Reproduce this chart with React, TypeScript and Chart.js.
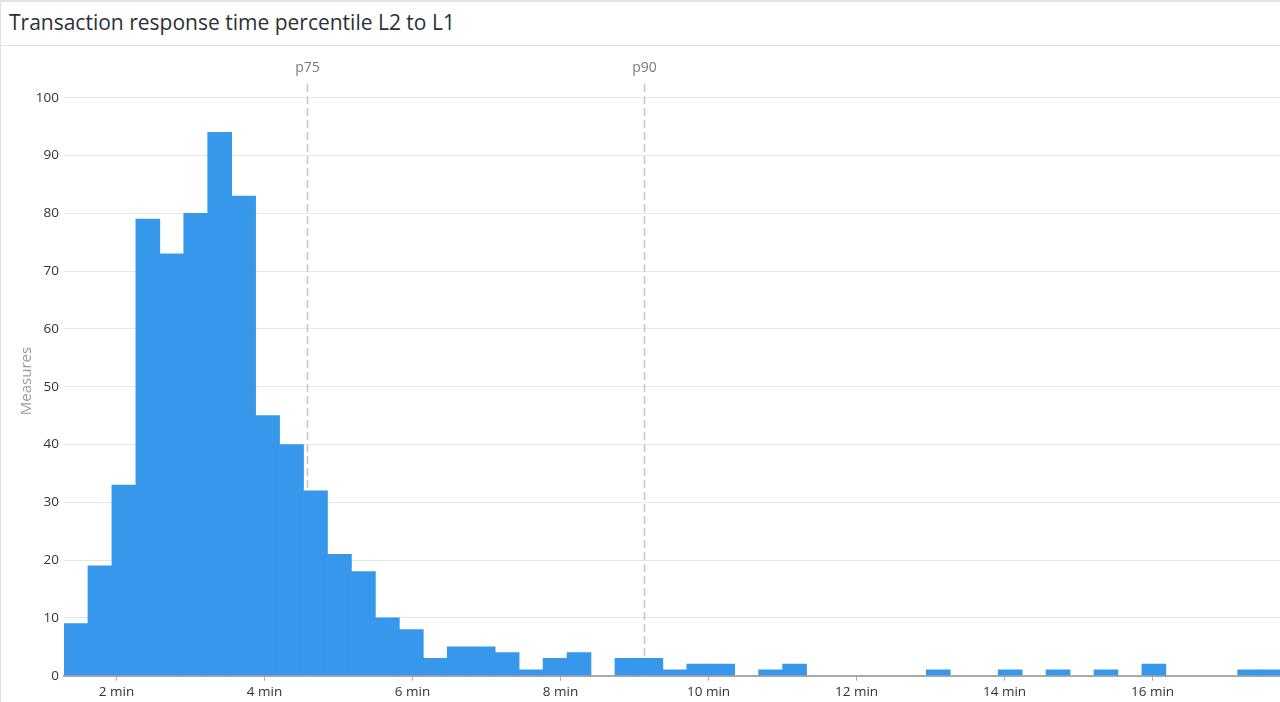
import React, { useEffect, useRef } from 'react';
import { Chart, registerables } from 'chart.js';

Chart.register(...registerables);

// ---- Data ----
const titleText = 'Transaction response time percentile L2 to L1';
const yAxisTitle = 'Measures';
const binStartMin = 1.29; // first bin edge, minutes
const binWidthMin = 0.3237; // bin width, minutes
const counts = [
  9, 19, 33, 79, 73, 80, 94, 83, 45, 40, 32, 21, 18, 10, 8, 3, 5, 5, 4, 1, 3, 4, 0, 3, 3, 1, 2, 2, 0, 1, 2,
  0, 0, 0, 0, 0, 1, 0, 0, 1, 0, 1, 0, 1, 0, 2, 0, 0, 0, 1, 1,
];
const xTickValues = [2, 4, 6, 8, 10, 12, 14, 16, 18];
const yTickValues = [0, 10, 20, 30, 40, 50, 60, 70, 80, 90, 100];
const percentileLabels = ['p75', 'p90'];
const percentileValues = [4.578, 9.132];
const xMin = 1.29;
const xMax = 19.074;

const FONT = "'Open Sans', 'Noto Sans', sans-serif";
const BAR_COLOR = '#3697eb';

const percentilePlugin = {
  id: 'percentiles',
  beforeDatasetsDraw(chart: any) {
    const { ctx, chartArea, scales } = chart;
    const x = scales.x;
    ctx.save();
    percentileValues.forEach((v, i) => {
      const px = Math.round(x.getPixelForValue(v)) + 0.5;
      ctx.beginPath();
      ctx.setLineDash([8, 4]);
      ctx.strokeStyle = '#c4c4c4';
      ctx.lineWidth = 1.5;
      ctx.moveTo(px, chartArea.top - 13.5);
      ctx.lineTo(px, chartArea.bottom);
      ctx.stroke();
      ctx.setLineDash([]);
      ctx.fillStyle = '#7a7a7a';
      ctx.font = `14px ${FONT}`;
      ctx.textAlign = 'center';
      ctx.textBaseline = 'middle';
      ctx.fillText(percentileLabels[i], px, chartArea.top - 29.5);
    });
    // y axis title
    ctx.save();
    ctx.translate(27, 381 - 46);
    ctx.rotate(-Math.PI / 2);
    ctx.fillStyle = '#9a9a9a';
    ctx.font = `15px ${FONT}`;
    ctx.textAlign = 'center';
    ctx.textBaseline = 'middle';
    ctx.fillText(yAxisTitle, 0, 0);
    ctx.restore();
    ctx.restore();
  },
};

function HistogramChart() {
  const ref = useRef<HTMLCanvasElement | null>(null);
  useEffect(() => {
    if (!ref.current) return;
    const data = counts.map((c, i) => ({
      x: binStartMin + (i + 0.5) * binWidthMin,
      y: c === 0 ? null : c,
    }));
    const chart = new Chart(ref.current, {
      type: 'bar',
      data: {
        datasets: [
          {
            data: data as any,
            backgroundColor: BAR_COLOR,
            borderWidth: 0,
            barPercentage: 1,
            categoryPercentage: 1,
          },
        ],
      },
      options: {
        animation: false,
        responsive: false,
        maintainAspectRatio: false,
        layout: { padding: { top: 51.7, right: 20, bottom: 0, left: 0 } },
        plugins: { legend: { display: false }, tooltip: { enabled: false }, title: { display: false } },
        scales: {
          x: {
            type: 'linear',
            min: xMin,
            max: xMax,
            offset: false,
            afterBuildTicks: (scale: any) => {
              scale.ticks = xTickValues.map((v) => ({ value: v }));
            },
            afterFit: (scale: any) => {
              scale.height = 26.3;
            },
            grid: {
              offset: false,
              drawOnChartArea: false,
              drawTicks: true,
              tickLength: 5,
              color: '#a9a9a9',
              lineWidth: 1,
            },
            border: { display: true, color: '#a9a9a9', width: 2 },
            ticks: {
              padding: 3,
              color: '#333333',
              font: { family: FONT, size: 13.5 },
              maxRotation: 0,
              autoSkip: false,
              callback: (v: any) => `${v} min`,
            },
          },
          y: {
            type: 'linear',
            min: 0,
            max: 100,
            afterBuildTicks: (scale: any) => {
              scale.ticks = yTickValues.map((v) => ({ value: v }));
            },
            afterFit: (scale: any) => {
              scale.width = 64;
            },
            grid: { color: '#e6e6e6', lineWidth: 1, drawTicks: false },
            border: { display: false },
            ticks: {
              padding: 5,
              color: '#333333',
              font: { family: FONT, size: 13.5 },
            },
            title: { display: false },
          },
        },
      },
      plugins: [percentilePlugin],
    });
    return () => chart.destroy();
  }, []);
  return <canvas ref={ref} width={1400} height={656} style={{ display: 'block', width: 1400, height: 656 }} />;
}

export default function App() {
  return (
    <div
      style={{
        position: 'fixed',
        left: 0,
        top: 0,
        width: 1280,
        height: 702,
        overflow: 'hidden',
        background: '#ffffff',
        boxSizing: 'border-box',
        borderLeft: '1px solid #e2e2e2',
        fontFamily: FONT,
      }}
    >
      <div
        style={{
          position: 'absolute',
          left: 0,
          top: 0,
          width: 1280,
          height: 46,
          boxSizing: 'border-box',
          borderTop: '2px solid #e4e4e4',
          borderBottom: '1px solid #e2e2e2',
        }}
      >
        <div
          style={{
            position: 'absolute',
            left: 8,
            top: 0,
            lineHeight: '40px',
            fontSize: 21,
            color: '#2b3036',
            whiteSpace: 'nowrap',
          }}
        >
          {titleText}
        </div>
      </div>
      <div style={{ position: 'absolute', left: -1, top: 46, width: 1400, height: 656 }}>
        <HistogramChart />
      </div>
    </div>
  );
}
